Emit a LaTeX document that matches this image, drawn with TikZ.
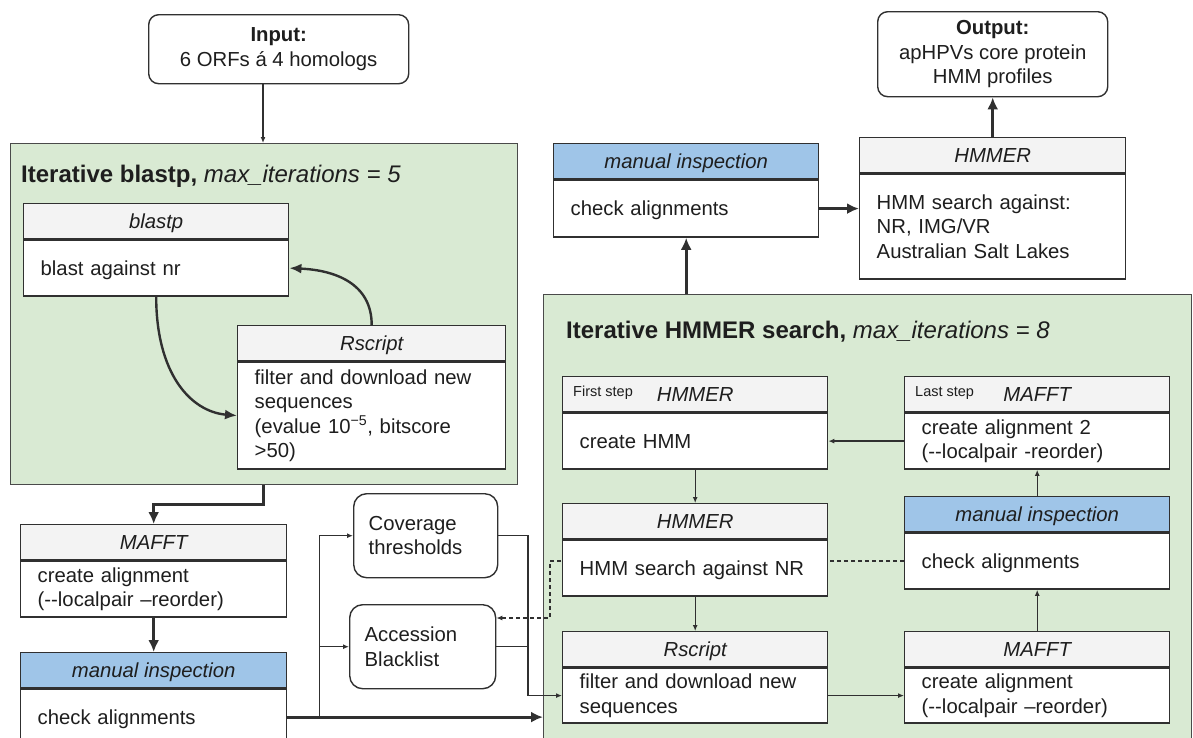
\documentclass[tikz,border=0pt]{standalone}
\usepackage{fontspec}
\setmainfont{Liberation Sans}
\usetikzlibrary{arrows.meta}

\definecolor{gfill}{HTML}{D9EAD3}
\definecolor{hgray}{HTML}{F3F3F3}
\definecolor{hblue}{HTML}{9FC5E8}
\definecolor{edge}{HTML}{303030}
\definecolor{regedge}{HTML}{4A4A4A}
\definecolor{ink}{HTML}{1E1E1E}

\newcommand\bodyfnt{\fontsize{20.3}{24.5}\selectfont}
\newcommand\titlefnt{\fontsize{24}{28}\selectfont}
\newcommand\smallfnt{\fontsize{14.5}{17}\selectfont}

\tikzset{
  boxframe/.style={draw=edge, line width=1.4pt, inner sep=0pt, anchor=north west, text=ink},
  hdr/.style={boxframe, font=\bodyfnt\itshape, align=center, text height=14.6pt, text depth=0pt},
  bdy/.style={boxframe, fill=white, font=\bodyfnt, align=left, inner xsep=17pt},
  oneline/.style={text depth=0pt},
  terminal/.style={boxframe, fill=white, rounded corners=10pt, font=\bodyfnt, align=center},
  paramnode/.style={boxframe, fill=white, rounded corners=13pt, font=\bodyfnt, align=left, inner xsep=15pt},
  stage/.style={draw=regedge, line width=1.4pt, fill=gfill, anchor=north west, inner sep=0pt},
  stagetitle/.style={anchor=base west, font=\titlefnt, inner sep=0pt, text=ink},
  steplabel/.style={anchor=west, font=\smallfnt, inner sep=0pt, text=ink},
  thinline/.style={draw=edge, line width=1.3pt},
  thinflow/.style={thinline, -{Latex[length=6pt,width=5pt]}},
  mainflow/.style={draw=edge, line width=3pt, -{Latex[length=12pt,width=11pt]}},
  loopflow/.style={draw=edge, line width=2.4pt, -{Latex[length=12pt,width=10pt]}},
  feedback/.style={draw=edge, line width=1.3pt, dash pattern=on 4pt off 3pt, -{Latex[length=6pt,width=5pt]}},
}

% process box: tool name in a 35pt header strip, task text in the body below
% #1 name, #2 x, #3 top y, #4 width, #5 extra body options, #6 body height,
% #7 header fill, #8 header text, #9 body text
\newcommand\procbox[9]{%
  \pgfmathsetmacro\pbtw{#4-34}%
  \node[hdr, fill=#7, minimum width=#4pt, minimum height=35pt] (#1h) at (#2,#3) {#8};
  \node[bdy, #5, minimum width=#4pt, minimum height=#6pt, text width=\pbtw pt] (#1) at (#1h.south west) {#9};
}

\begin{document}
\begin{tikzpicture}[x=1pt, y=-1pt]
\useasboundingbox (0,0) rectangle (1193,737);
\fill[white] (0,0) rectangle (1193,737);
\clip (0,0) rectangle (1193,737);

% stages
\node[stage, minimum width=507pt, minimum height=341pt] (g1) at (10,143) {};
\node[stage, minimum width=648pt, minimum height=470pt] (g2) at (543,294) {};
\node[stagetitle] (g1t) at (21,182) {\textbf{Iterative blastp,} \textit{max\_iterations = 5}};
\node[stagetitle] (g2t) at (566,338) {\textbf{Iterative HMMER search,} \textit{max\_iterations = 8}};

% terminals
\node[terminal, minimum width=260pt, minimum height=69pt] (inp) at (148,14) {\textbf{Input:}\\6 ORFs á 4 homologs};
\node[terminal, minimum width=230pt, minimum height=85pt] (out) at (877,11) {\textbf{Output:}\\apHPVs core protein\\HMM profiles};

% iterative blastp
\procbox{blastp}{23}{203}{265}{oneline}{56}{hgray}{blastp}{blast against nr}
\procbox{rsa}{237}{325}{268}{}{107}{hgray}{Rscript}{filter and download new\\sequences\\(evalue 10\textsuperscript{−5}, bitscore\\>50)}

% alignment of the blastp hits
\procbox{mafa}{20}{524}{266}{}{56}{hgray}{MAFFT}{create alignment\\(-{}-localpair –reorder)}
\procbox{mana}{20}{652}{266}{oneline}{56}{hblue}{manual inspection}{check alignments}

% parameters
\node[paramnode, minimum width=144pt, minimum height=84pt, text width=114pt] (cov) at (353,493) {Coverage\\thresholds};
\node[paramnode, minimum width=146pt, minimum height=84pt, text width=116pt] (bl) at (349,604) {Accession\\Blacklist};

% final search
\procbox{manz}{553}{143}{265}{oneline}{57}{hblue}{manual inspection}{check alignments}
\procbox{hmz}{859}{137}{266}{}{105}{hgray}{HMMER}{HMM search against:\\NR, IMG/VR\\Australian Salt Lakes}

% blacklist feedback, running behind the search box
\coordinate (dturn) at (550,618);
\procbox{manb}{904}{496}{265}{oneline}{56}{hblue}{manual inspection}{check alignments}
\draw[feedback] (manb.west) -- (manb.west -| dturn) -- (dturn) -- (dturn -| bl.east);

% iterative HMMER search
\procbox{first}{562}{376}{265}{oneline}{56}{hgray}{HMMER}{create HMM}
\procbox{last}{904}{376}{265}{}{56}{hgray}{MAFFT}{create alignment 2\\(-{}-localpair -reorder)}
\procbox{hmnr}{562}{503}{265}{oneline}{56}{hgray}{HMMER}{HMM search against NR}
\procbox{rsb}{562}{631}{265}{}{55}{hgray}{Rscript}{filter and download new\\sequences}
\procbox{mafb}{904}{631}{265}{}{55}{hgray}{MAFFT}{create alignment\\(-{}-localpair –reorder)}
\node[steplabel] (fsl) at (573,393) {First step};
\node[steplabel] (lsl) at (915,393) {Last step};

% connectors
\coordinate (spine) at (263,0);
\draw[thinflow] (spine |- inp.south) -- (spine |- g1.north);
\draw[loopflow] (blastp.south) .. controls +(0,76) and +(-47,-4) .. (rsa.west);
\draw[loopflow] (rsah.north) .. controls +(0,-42) and +(45,2) .. (blastp.east);
\draw[mainflow] (spine |- g1.south) -- ++(0,19) -| (mafah.north);
\draw[mainflow] (mafa.south) -- (manah.north);
\draw[mainflow] (mana.east) -- (mana.east -| g2.west);

\coordinate (split) at ([xshift=32pt]mana.east);
\draw[thinflow] (split) |- (cov.west);
\draw[thinflow] (split |- bl.west) -- (bl.west);
\coordinate (merge) at ([xshift=-34pt]rsb.west);
\draw[thinflow] (cov.east) -| (merge) -- (rsb.west);
\draw[thinline] (bl.east) -- (bl.east -| merge);

\draw[thinflow] (first.south) -- (hmnrh.north);
\draw[thinflow] (hmnr.south) -- (rsbh.north);
\draw[thinflow] (rsb.east) -- (mafb.west);
\draw[thinflow] (mafbh.north) -- (manb.south);
\draw[thinflow] (manbh.north) -- (last.south);
\draw[thinflow] (last.west) -- (first.east);

\draw[mainflow] (manz.south |- g2.north) -- (manz.south);
\draw[mainflow] (manz.east) -- (manz.east -| hmz.west);
\draw[mainflow] (hmzh.north) -- (out.south);
\end{tikzpicture}
\end{document}
